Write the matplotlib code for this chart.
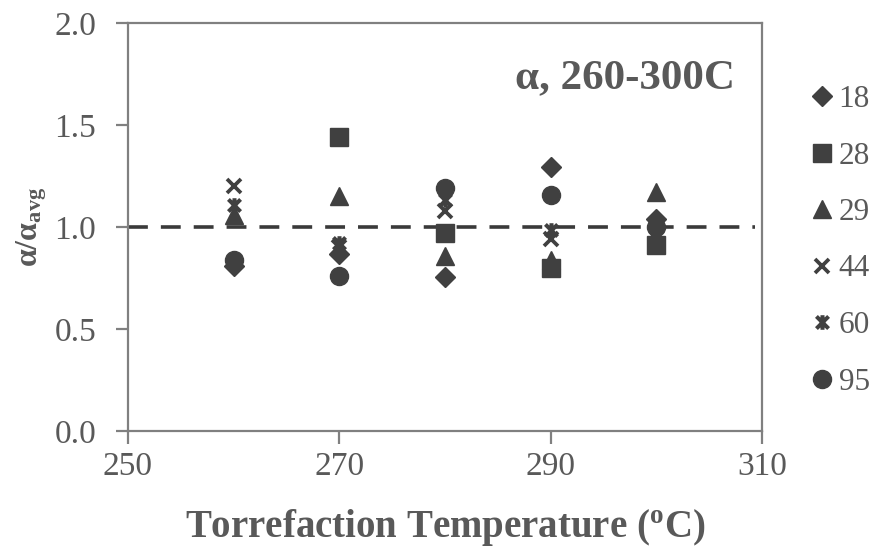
import numpy as np
import matplotlib
matplotlib.use("Agg")
import matplotlib.pyplot as plt
from matplotlib.path import Path

plt.rcParams['font.family'] = ['Liberation Serif', 'DejaVu Serif']
plt.rcParams['mathtext.fontset'] = 'custom'
plt.rcParams['mathtext.rm'] = 'Liberation Serif'
plt.rcParams['mathtext.bf'] = 'Liberation Serif:bold'
plt.rcParams['mathtext.it'] = 'Liberation Serif:italic'

temps = [260, 270, 280, 290, 300]
labels = ['18', '28', '29', '44', '60', '95']
s18 = [0.81, 0.87, 0.755, 1.295, 1.04]
s28 = [np.nan, 1.443, 0.97, 0.80, 0.91]
s29 = [1.06, 1.15, 0.86, 0.84, 1.17]
s44 = [1.20, 0.90, 1.08, 0.94, 0.97]
s60 = [1.11, 0.92, 1.13, 0.985, 0.95]
s95 = [0.84, 0.76, 1.19, 1.157, 1.00]
series = [s18, s28, s29, s44, s60, s95]
xticks = [250, 270, 290, 310]
yticks = [0.0, 0.5, 1.0, 1.5, 2.0]

star = Path([(-1, -1), (1, 1), (-1, 1), (1, -1), (0, -1.2), (0, 1.2)],
            [Path.MOVETO, Path.LINETO, Path.MOVETO, Path.LINETO, Path.MOVETO, Path.LINETO])

mc = '#404040'
styles = [
    dict(marker='D', ms=10),
    dict(marker='s', ms=12.5),
    dict(marker='^', ms=13),
    dict(marker='x', ms=10.5, mew=2.7),
    dict(marker=star, ms=10.5, mew=2.9, mfc='none'),
    dict(marker='o', ms=13),
]

fig = plt.figure(figsize=(8.77, 5.47), dpi=100)
ax = fig.add_axes([128/877, 1-431/547, (762-128)/877, (431-23)/547])

for vals, lab, st in zip(series, labels, styles):
    ax.plot(temps, vals, linestyle='none', color=mc, mec=mc, label=lab, **st)

ax.plot([250, 309.3], [1.0, 1.0], linestyle=(0, (5.5, 3.6)), color='#3a3a3a', lw=2.6, zorder=1)

ax.set_xlim(250, 310)
ax.set_ylim(0, 2.0)
ax.set_xticks(xticks)
ax.set_yticks(yticks)
ax.set_yticklabels([f'{v:.1f}' for v in yticks])
for sp in ax.spines.values():
    sp.set_color('#808080')
    sp.set_linewidth(1.6)
ax.tick_params(axis='both', colors='#808080', labelcolor='#595959', labelsize=24,
               width=1.6, length=9, direction='out')
ax.tick_params(axis='x', pad=6)
ax.tick_params(axis='y', pad=14)

ax.set_xlabel('Torrefaction Temperature ($\\mathregular{^o}$C)', fontsize=28,
              fontweight='bold', color='#595959', labelpad=18)
ax.set_ylabel(r'$\mathbf{\alpha/\alpha_{avg}}$', fontsize=23, color='#595959', labelpad=4)
ax.text(0.958, 0.865, 'α, 260-300C', transform=ax.transAxes, ha='right', va='center',
        fontsize=31, fontweight='bold', color='#595959')

leg = fig.legend(loc='upper left', bbox_to_anchor=(809/877, 1-85/547), frameon=False,
                 fontsize=22.5, handlelength=0.8, handletextpad=0.15, labelspacing=0.88,
                 borderaxespad=0, borderpad=0, labelcolor='#595959')

fig.savefig('out.png', dpi=100)
